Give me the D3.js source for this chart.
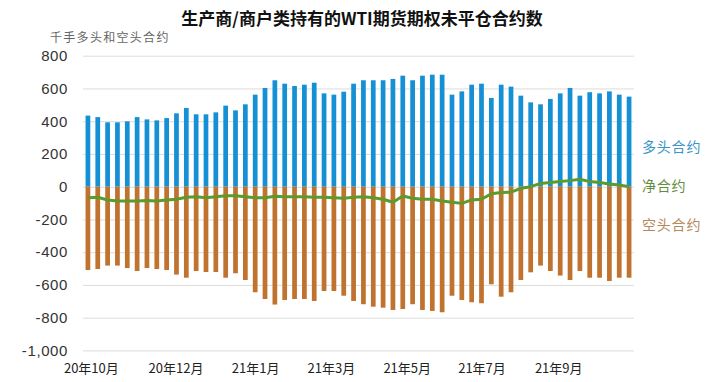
<!DOCTYPE html>
<html>
<head>
<meta charset="utf-8">
<script src="https://cdn.jsdelivr.net/npm/d3@7"></script>
<style>
body{margin:0;background:#fff;}
svg{display:block;}
</style>
</head>
<body>
<svg id="chart"></svg>
<script>

// weekly long / short / net positions (thousand contracts)
var longPos = [434,425,393,393,399,425,411,405,419,448,481,442,442,454,495,466,503,562,603,650,
               629,615,623,635,570,562,580,629,650,650,650,658,678,650,678,684,684,562,582,623,
               629,542,623,611,556,515,503,536,570,603,556,577,570,582,562,550]
var shortPos = [-509,-503,-482,-482,-497,-515,-497,-503,-509,-537,-556,-515,-521,-521,-556,-529,-570,-645,-686,-720,
                -692,-686,-686,-698,-637,-637,-666,-698,-718,-733,-739,-753,-747,-718,-753,-759,-767,-666,-692,-706,
                -712,-596,-672,-645,-570,-523,-482,-515,-543,-570,-515,-556,-556,-576,-556,-556]
var netPos = [-67,-65,-81,-87,-87,-87,-85,-87,-81,-77,-65,-61,-67,-61,-55,-55,-61,-67,-67,-58,
              -61,-61,-61,-65,-65,-67,-71,-65,-61,-67,-77,-95,-57,-71,-77,-77,-87,-95,-102,-81,
              -77,-43,-36,-33,-10,0,20,25,31,37,45,31,25,16,10,0]

var xTickIdx = [0.3,8.9,17,24.7,32.4,40,47.8]
var xTickLabels = ["20年10月","20年12月","21年1月","21年3月","21年5月","21年7月","21年9月"]
var yTicks = [800,600,400,200,0,-200,-400,-600,-800,-1000]

var legendNames = ["多头合约","净合约","空头合约"]

var drawChart = function()
{
    var screen = {width:720,height:382}
    var plot = {left:83,right:634,top:55.7,bottom:350.4}

    var svg = d3.select("#chart")
        .attr("width",screen.width)
        .attr("height",screen.height)

    var idx = d3.range(longPos.length)

    var xScale = d3.scaleBand()
        .domain(idx)
        .range([plot.left,plot.right])
        .paddingInner(0.52)
        .paddingOuter(0.26)

    var yScale = d3.scaleLinear()
        .domain([-1000,800])
        .range([plot.bottom,plot.top])

    var half = xScale.bandwidth()/2
    var xIdx = d3.scaleLinear()
        .domain([0,longPos.length-1])
        .range([xScale(0)+half,xScale(longPos.length-1)+half])

    var fmt = d3.format(",")
    var yAxis = d3.axisLeft(yScale)
        .tickValues(yTicks)
        .tickSize(-(plot.right-plot.left))
        .tickPadding(15)
        .tickFormat(function(d){return fmt(d).replace("\u2212","-")})

    var gy = svg.append("g")
        .attr("transform","translate("+plot.left+",0)")
        .call(yAxis)
    gy.select(".domain").remove()
    gy.selectAll(".tick line").attr("stroke","#dcdcdc").attr("stroke-width",1)
    gy.selectAll(".tick text")
        .attr("fill","#333")
        .style("font-family","'Liberation Sans',Arial,sans-serif")
        .style("font-size","15px")
        .style("letter-spacing","0.6px")

    var xAxis = d3.axisBottom(xIdx)
        .tickValues(xTickIdx)
        .tickSize(0)
        .tickPadding(13)
        .tickFormat(function(d,i){return xTickLabels[i]})

    var gx = svg.append("g")
        .attr("transform","translate(0,"+plot.bottom+")")
        .call(xAxis)
    gx.select(".domain").remove()
    gx.selectAll(".tick text")
        .attr("fill","#222")
        .style("font-family","'Noto Sans CJK SC',sans-serif")
        .style("font-size","13px")

    svg.append("g")
        .selectAll("rect")
        .data(longPos)
        .enter()
        .append("rect")
        .attr("x",function(d,i){return xScale(i)})
        .attr("y",function(d){return yScale(d)})
        .attr("width",xScale.bandwidth())
        .attr("height",function(d){return yScale(0)-yScale(d)})
        .attr("fill","#1590d5")

    svg.append("g")
        .selectAll("rect")
        .data(shortPos)
        .enter()
        .append("rect")
        .attr("x",function(d,i){return xScale(i)})
        .attr("y",yScale(0))
        .attr("width",xScale.bandwidth())
        .attr("height",function(d){return yScale(d)-yScale(0)})
        .attr("fill","#c0722f")

    var line = d3.line()
        .x(function(d,i){return xIdx(i)})
        .y(function(d){return yScale(d)})

    svg.append("path")
        .datum(netPos)
        .attr("d",line)
        .attr("fill","none")
        .attr("stroke","#5c9a2c")
        .attr("stroke-width",3)
        .attr("stroke-linejoin","round")

    // title + unit
    svg.append("text")
        .attr("x",362)
        .attr("y",19)
        .attr("dy","0.35em")
        .attr("text-anchor","middle")
        .attr("fill","#111")
        .style("font-family","'Noto Sans CJK SC',sans-serif")
        .style("font-weight","bold")
        .style("font-size","17px")
        .text("生产商/商户类持有的WTI期货期权未平仓合约数")

    svg.append("text")
        .attr("x",50)
        .attr("y",38)
        .attr("dy","0.35em")
        .attr("fill","#666")
        .style("font-family","'Noto Sans CJK SC',sans-serif")
        .style("font-size","12px")
        .style("letter-spacing","1.3px")
        .text("千手多头和空头合约")

    var legendColors = ["#3b93c6","#5f8d3c","#b5895a"]
    var legendY = [147,186,225]
    svg.append("g")
        .selectAll("text")
        .data(legendNames)
        .enter()
        .append("text")
        .attr("x",642)
        .attr("y",function(d,i){return legendY[i]})
        .attr("dy","0.35em")
        .attr("fill",function(d,i){return legendColors[i]})
        .style("font-family","'Noto Sans CJK SC',sans-serif")
        .style("font-size","14px")
        .style("letter-spacing","0.8px")
        .text(function(d){return d})
}

drawChart()
</script>
</body>
</html>
